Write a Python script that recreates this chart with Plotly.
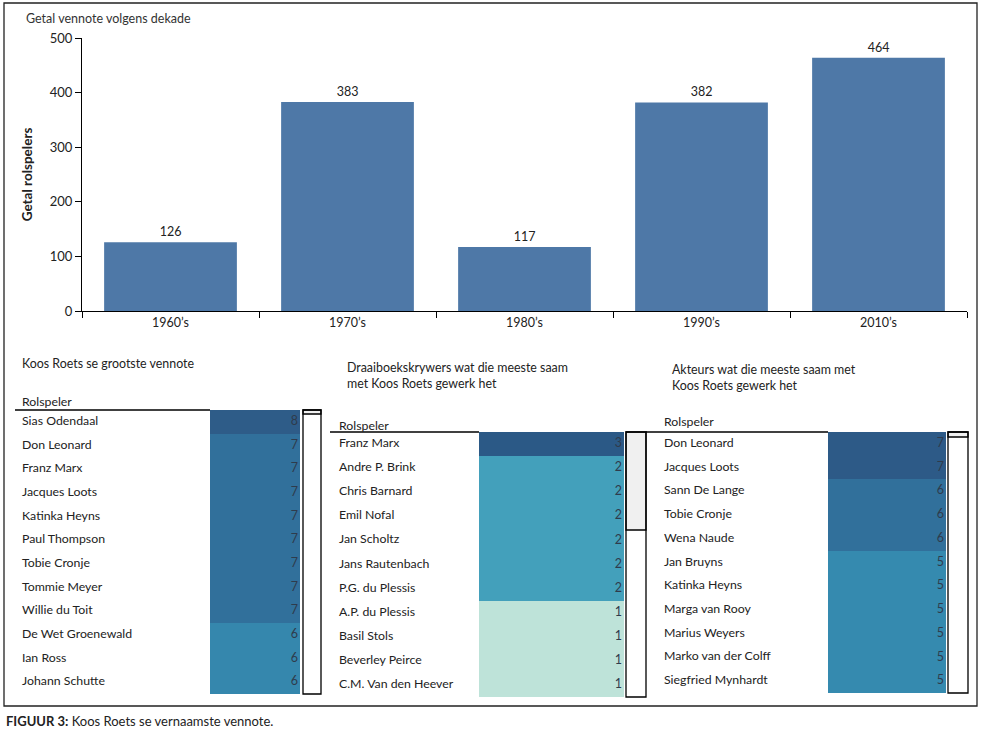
import plotly.graph_objects as go

W, H = 981, 738
FONT = "Lato"

# ---------------- data ----------------
decades = ["1960’s", "1970’s", "1980’s", "1990’s", "2010’s"]
partners = [126, 383, 117, 382, 464]

t1_names = ["Sias Odendaal", "Don Leonard", "Franz Marx", "Jacques Loots", "Katinka Heyns",
            "Paul Thompson", "Tobie Cronje", "Tommie Meyer", "Willie du Toit",
            "De Wet Groenewald", "Ian Ross", "Johann Schutte"]
t1_vals = [8, 7, 7, 7, 7, 7, 7, 7, 7, 6, 6, 6]

t2_names = ["Franz Marx", "Andre P. Brink", "Chris Barnard", "Emil Nofal", "Jan Scholtz",
            "Jans Rautenbach", "P.G. du Plessis", "A.P. du Plessis", "Basil Stols",
            "Beverley Peirce", "C.M. Van den Heever"]
t2_vals = [3, 2, 2, 2, 2, 2, 2, 1, 1, 1, 1]

t3_names = ["Don Leonard", "Jacques Loots", "Sann De Lange", "Tobie Cronje", "Wena Naude",
            "Jan Bruyns", "Katinka Heyns", "Marga van Rooy", "Marius Weyers",
            "Marko van der Colff", "Siegfried Mynhardt"]
t3_vals = [7, 7, 6, 6, 6, 5, 5, 5, 5, 5, 5]

# ---------------- helpers ----------------
def px(x):
    return x / W

def py(y):
    return 1 - y / H

fig = go.Figure()

# ---------------- bar chart ----------------
fig.add_trace(go.Bar(
    x=decades, y=partners, marker=dict(color="#4E78A7", line=dict(width=0)),
    text=partners, textposition="outside", cliponaxis=False,
    textfont=dict(family=FONT, size=12.5, color="#222222"),
    xaxis="x", yaxis="y", showlegend=False, hoverinfo="skip"))

layout = dict(
    template="none",
    width=W, height=H, margin=dict(l=0, r=0, t=0, b=0, pad=0, autoexpand=False),
    paper_bgcolor="white", plot_bgcolor="white",
    font=dict(family=FONT, size=12, color="#222222"),
    bargap=0.25, showlegend=False,
    xaxis=dict(domain=[px(82), px(967)], anchor="y", type="category", automargin=False,
               tickson="boundaries", ticks="outside", ticklen=6, tickcolor="black",
               showline=True, linecolor="black", linewidth=1, showgrid=False,
               tickfont=dict(size=12.5, color="#222222"), fixedrange=True),
    yaxis=dict(domain=[py(311), py(38)], anchor="x", range=[0, 500], dtick=100,
               automargin=False, ticks="outside", ticklen=6, tickcolor="black", showline=True,
               linecolor="black", linewidth=1, showgrid=False, zeroline=False,
               tickfont=dict(size=13, color="#222222"), fixedrange=True,
               title=dict(text="<b>Getal rolspelers</b>", font=dict(size=13.5, color="#222222"),
                          standoff=14)),
)

annotations = [
    dict(text="Getal vennote volgens dekade", x=px(24), y=py(19), xref="paper", yref="paper",
         xanchor="left", yanchor="middle", showarrow=False, font=dict(size=12.5, color="#333333")),
    dict(text="<b>FIGUUR 3:</b> Koos Roets se vernaamste vennote.", x=px(4), y=py(721),
         xref="paper", yref="paper", xanchor="left", yanchor="middle", showarrow=False,
         font=dict(size=13, color="#222222")),
]
shapes = [
    dict(type="rect", xref="paper", yref="paper", x0=px(4), x1=px(977), y0=py(706), y1=py(3),
         line=dict(color="#222222", width=1.3), fillcolor="rgba(0,0,0,0)", layer="below"),
]

# ---------------- tables ----------------
panels = [
    dict(names=t1_names, vals=t1_vals,
         colors={8: "#2E5C88", 7: "#31709B", 6: "#3587AD"},
         title=["Koos Roets se grootste vennote"], title_x=22, title_y=[363],
         head_x=22, head_y=401, line_x0=15, col_l=210, col_r=300, top=410, bottom=694,
         name_x=22, sb=(303, 321), thumb=(410, 414)),
    dict(names=t2_names, vals=t2_vals,
         colors={3: "#2B5986", 2: "#43A0BB", 1: "#BEE3D9"},
         title=["Draaiboekskrywers wat die meeste saam", "met Koos Roets gewerk het"],
         title_x=347, title_y=[367, 383],
         head_x=339, head_y=425, line_x0=330, col_l=479, col_r=624, top=432, bottom=697,
         name_x=339, sb=(626, 646), thumb=(432, 530)),
    dict(names=t3_names, vals=t3_vals,
         colors={7: "#2D5A87", 6: "#31709B", 5: "#358AAF"},
         title=["Akteurs wat die meeste saam met", "Koos Roets gewerk het"],
         title_x=672, title_y=[370, 386],
         head_x=664, head_y=421, line_x0=646, col_l=828, col_r=946, top=432, bottom=693,
         name_x=664, sb=(948, 968), thumb=(432, 437)),
]

for i, p in enumerate(panels):
    k = i + 2
    xa, ya = f"x{k}", f"y{k}"
    n = len(p["names"])
    idx = list(range(n))
    unit = p["col_r"] - p["col_l"]
    left_px = p["line_x0"]
    xr = [-(p["col_l"] - left_px) / unit, 1]
    name_data_x = -(p["col_l"] - p["name_x"]) / unit
    num_data_x = 1 - 2 / unit

    keys = sorted(p["colors"])
    zmin, zmax = keys[0], keys[-1]
    cscale = [[(kk - zmin) / (zmax - zmin), p["colors"][kk]] for kk in keys]

    fig.add_trace(go.Heatmap(
        z=[[v] for v in p["vals"]], x=[0.5], y=idx, zmin=zmin, zmax=zmax,
        colorscale=cscale, showscale=False, xgap=0, ygap=0,
        xaxis=xa, yaxis=ya, hoverinfo="skip"))
    fig.add_trace(go.Scatter(
        x=[num_data_x] * n, y=idx, mode="text", text=[str(v) for v in p["vals"]],
        textposition="middle left", cliponaxis=False,
        textfont=dict(family=FONT, size=12.5, color="#2F3B4C"),
        xaxis=xa, yaxis=ya, showlegend=False, hoverinfo="skip"))
    fig.add_trace(go.Scatter(
        x=[name_data_x] * n, y=idx, mode="text", text=p["names"],
        textposition="middle right", cliponaxis=False,
        textfont=dict(family=FONT, size=12.3, color="#222222"),
        xaxis=xa, yaxis=ya, showlegend=False, hoverinfo="skip"))

    layout[f"xaxis{k}"] = dict(domain=[px(left_px), px(p["col_r"])], range=xr, anchor=ya,
                               visible=False, fixedrange=True, automargin=False)
    layout[f"yaxis{k}"] = dict(domain=[py(p["bottom"]), py(p["top"])], range=[n - 0.5, -0.5],
                               anchor=xa, visible=False, fixedrange=True, automargin=False)

    for t, ty in zip(p["title"], p["title_y"]):
        annotations.append(dict(text=t, x=px(p["title_x"] - 2), y=py(ty), xref="paper",
                                yref="paper", xanchor="left", yanchor="middle",
                                showarrow=False, font=dict(size=12.4, color="#222222")))
    annotations.append(dict(text="Rolspeler", x=px(p["head_x"] - 2), y=py(p["head_y"]),
                            xref="paper", yref="paper", xanchor="left", yanchor="middle",
                            showarrow=False, font=dict(size=12.3, color="#222222")))
    shapes.append(dict(type="line", xref="paper", yref="paper", x0=px(p["line_x0"]),
                       x1=px(p["col_l"]), y0=py(p["top"]), y1=py(p["top"]),
                       line=dict(color="black", width=1.3)))
    sx0, sx1 = p["sb"]
    shapes.append(dict(type="rect", xref="paper", yref="paper", x0=px(sx0), x1=px(sx1),
                       y0=py(p["thumb"][1]), y1=py(p["thumb"][0]),
                       fillcolor="#F0F0F0", line=dict(color="black", width=1.3)))
    shapes.append(dict(type="rect", xref="paper", yref="paper", x0=px(sx0), x1=px(sx1),
                       y0=py(p["bottom"]), y1=py(p["top"]),
                       fillcolor="rgba(0,0,0,0)", line=dict(color="black", width=1.3)))

layout["annotations"] = annotations
layout["shapes"] = shapes
fig.update_layout(**layout)

fig.write_html("out.html", config={"displayModeBar": False},
               post_script="document.body.style.margin='0px';document.body.style.overflow='hidden';")
